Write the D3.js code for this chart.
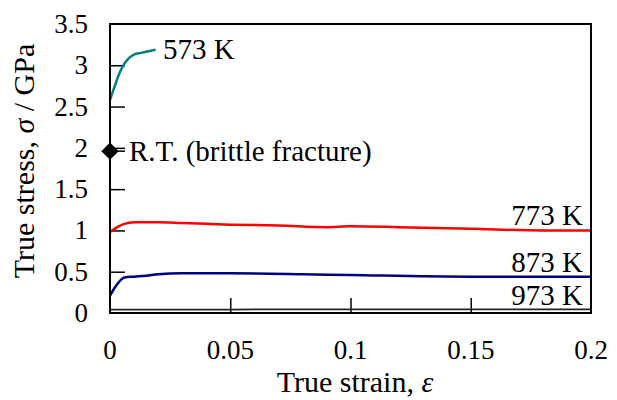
<!DOCTYPE html>
<html>
<head>
<meta charset="utf-8">
<script src="https://cdn.jsdelivr.net/npm/d3@7"></script>
<style>
body { margin: 0; background: #fff; }
text { font-family: "Liberation Serif", "Times New Roman", serif; }
</style>
</head>
<body>
<svg id="chart" width="617" height="400"></svg>
<script>
// stress-strain curves
var xTicks = [0, 0.05, 0.1, 0.15, 0.2];
var xTickLabels = ["0", "0.05", "0.1", "0.15", "0.2"];
var yTicks = [0, 0.5, 1, 1.5, 2, 2.5, 3, 3.5];
var yTickLabels = ["0", "0.5", "1", "1.5", "2", "2.5", "3", "3.5"];

var strain573 = [0, 0.002, 0.004, 0.006, 0.008, 0.010, 0.013, 0.016, 0.019];
var stress573 = [2.58, 2.75, 2.91, 3.02, 3.09, 3.13, 3.15, 3.17, 3.19];

var strain773 = [0, 0.003, 0.006, 0.01, 0.02, 0.03, 0.05, 0.07, 0.09, 0.1, 0.12, 0.15, 0.18, 0.2];
var stress773 = [0.98, 1.04, 1.08, 1.10, 1.10, 1.09, 1.07, 1.06, 1.04, 1.05, 1.04, 1.02, 1.00, 1.00];

var strain873 = [0, 0.003, 0.006, 0.01, 0.015, 0.02, 0.03, 0.05, 0.08, 0.1, 0.15, 0.2];
var stress873 = [0.21, 0.35, 0.43, 0.44, 0.45, 0.47, 0.48, 0.48, 0.47, 0.46, 0.44, 0.44];

var strain973 = [0, 0.02, 0.05, 0.1, 0.15, 0.2];
var stress973 = [0.04, 0.04, 0.042, 0.045, 0.045, 0.045];

var rtStrain = [0];
var rtStress = [1.96];

var svg = d3.select("#chart");
var mLeft = 110, mRight = 591, mTop = 24, mBottom = 313;

var x = d3.scaleLinear().domain([0, 0.2]).range([mLeft, mRight]);
var y = d3.scaleLinear().domain([0, 3.5]).range([mBottom, mTop]);

// ticks (inward)
svg.append("g")
.attr("transform", "translate(" + mLeft + ",0)")
.call(d3.axisRight(y).tickValues(yTicks.slice(1, 7)).tickSize(15).tickFormat(""))
.call(function (g) { g.select(".domain").remove(); })
.selectAll("line").attr("stroke", "black").attr("stroke-width", 1.5);

svg.append("g")
.attr("transform", "translate(0," + mBottom + ")")
.call(d3.axisTop(x).tickValues(xTicks.slice(1, 4)).tickSize(15).tickFormat(""))
.call(function (g) { g.select(".domain").remove(); })
.selectAll("line").attr("stroke", "black").attr("stroke-width", 1.5);

// tick labels
yTicks.forEach(function (v, i) {
	svg.append("text")
	.text(yTickLabels[i])
	.attr("x", 88)
	.attr("y", y(v) + 9)
	.attr("text-anchor", "end")
	.attr("font-size", 27);
});
xTicks.forEach(function (v, i) {
	svg.append("text")
	.text(xTickLabels[i])
	.attr("x", x(v))
	.attr("y", 359)
	.attr("text-anchor", "middle")
	.attr("font-size", 27);
});

// curves
function curve(xs, ys, color, w) {
	var pts = xs.map(function (d, i) { return [d, ys[i]]; });
	svg.append("path")
	.attr("d", d3.line().x(function (d) { return x(d[0]); }).y(function (d) { return y(d[1]); }).curve(d3.curveMonotoneX)(pts))
	.attr("fill", "none")
	.attr("stroke", color)
	.attr("stroke-width", w);
}
curve(strain973, stress973, "#222", 1.8);
curve(strain873, stress873, "#000080", 2.5);
curve(strain773, stress773, "#ff0000", 2.5);
curve(strain573, stress573, "#008080", 2.5);

// frame
svg.append("rect")
.attr("x", mLeft).attr("y", mTop)
.attr("width", mRight - mLeft).attr("height", mBottom - mTop)
.attr("fill", "none").attr("stroke", "black").attr("stroke-width", 2);

// R.T. point
rtStrain.forEach(function (d, i) {
	svg.append("path")
	.attr("d", d3.symbol().type(d3.symbolSquare).size(150)())
	.attr("transform", "translate(" + x(d) + "," + y(rtStress[i]) + ") rotate(45)")
	.attr("fill", "black");
	svg.append("line")
	.attr("x1", x(d)).attr("x2", x(d) + 15)
	.attr("y1", y(rtStress[i])).attr("y2", y(rtStress[i]))
	.attr("stroke", "black").attr("stroke-width", 1.5);
});

// labels
svg.append("text").text("573 K").attr("x", 163).attr("y", 59).attr("font-size", 29);
svg.append("text").text("R.T. (brittle fracture)").attr("x", 129).attr("y", 161).attr("font-size", 29);
svg.append("text").text("773 K").attr("x", 583).attr("y", 225).attr("text-anchor", "end").attr("font-size", 29);
svg.append("text").text("873 K").attr("x", 583).attr("y", 272).attr("text-anchor", "end").attr("font-size", 29);
svg.append("text").text("973 K").attr("x", 583).attr("y", 305).attr("text-anchor", "end").attr("font-size", 29);

// axis titles
var xt = svg.append("text").attr("x", 355).attr("y", 392).attr("text-anchor", "middle").attr("font-size", 30);
xt.append("tspan").text("True strain, ");
xt.append("tspan").text("ε").attr("font-style", "italic");

var yt = svg.append("text").attr("transform", "translate(34,161) rotate(-90)").attr("text-anchor", "middle").attr("font-size", 30);
yt.append("tspan").text("True stress, ");
yt.append("tspan").text("σ").attr("font-style", "italic");
yt.append("tspan").text(" / GPa");
</script>
</body>
</html>
